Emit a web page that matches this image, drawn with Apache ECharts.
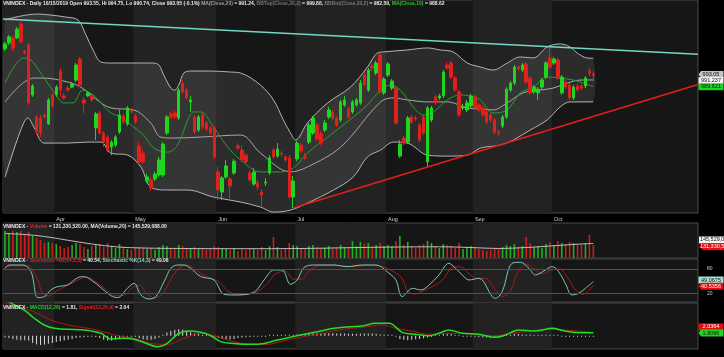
<!DOCTYPE html>
<html><head><meta charset="utf-8">
<script src="https://cdn.jsdelivr.net/npm/echarts@6/dist/echarts.min.js"></script>
<style>html,body{margin:0;padding:0;background:#000;}#c{width:724px;height:357px;}</style>
</head><body><div id="c"></div>
<script>
// ---------- DATA ----------
const monthNames = ['Apr','May','Jun','Jul','Aug','Sep','Oct'];
const monthStart = [13,33,54,74,97,119,139];
const SLOTS = 176;
const cats = Array.from({length: SLOTS}, (_, i) => String(i));

const openP = [1003.6,1006.0,1008.0,1008.0,1013.5,1002.8,1005.2,985.3,976.5,976.1,
977.3,973.7,985.3,985.3,994.8,984.9,988.0,988.4,991.2,999.6,
983.3,984.9,984.9,972.1,978.1,970.1,968.5,964.5,965.3,970.5,
976.9,973.7,979.3,976.9,964.9,962.1,951.0,951.4,951.8,953.4,
953.4,970.1,977.7,978.1,976.1,990.0,987.2,982.5,976.5,971.3,
977.3,974.1,972.1,972.1,954.6,946.6,952.6,951.8,954.2,964.9,
963.3,961.3,954.2,949.8,950.2,946.6,950.2,954.2,963.3,960.9,
962.1,960.6,960.2,944.6,959.8,965.3,960.6,966.5,970.1,973.3,
969.7,971.3,976.5,978.5,976.1,975.3,981.3,979.7,978.5,981.3,
982.1,993.2,987.2,996.8,994.0,1001.2,986.1,993.2,988.0,988.0,
960.9,968.1,966.5,976.5,976.1,973.3,976.5,958.6,975.3,984.5,
984.1,984.9,997.2,998.0,992.0,986.5,980.1,979.3,980.9,984.5,
981.3,980.1,978.5,977.3,975.3,970.5,972.9,976.5,987.2,990.0,
996.4,995.2,997.6,992.0,986.5,986.1,988.4,992.4,1000.0,998.0,
999.2,986.1,990.4,989.2,984.1,988.8,988.8,988.8,994.8,993.55];
const closeP = [1005.6,1008.4,1004.0,1011.5,1006.4,1002.0,982.1,988.8,970.5,970.1,
976.5,983.3,980.9,988.4,987.2,984.1,987.2,989.6,997.2,989.2,
982.1,986.1,983.3,977.7,970.1,966.5,963.3,966.5,968.5,977.3,
974.5,980.1,978.5,974.5,958.6,958.6,952.6,948.2,953.8,959.4,
965.7,976.5,976.5,976.5,987.2,986.5,984.1,983.3,970.5,976.5,
972.5,971.7,970.1,960.6,947.4,952.2,957.0,949.0,958.9,964.1,
959.4,958.6,951.4,954.6,948.6,945.4,950.6,960.2,960.6,963.7,
961.7,959.4,944.6,951.0,966.1,962.9,960.2,973.3,976.1,967.7,
966.1,974.1,979.3,976.1,973.3,982.5,983.3,976.5,982.5,983.3,
990.0,989.2,995.2,996.0,998.0,986.5,991.6,997.6,990.8,974.1,
965.7,966.1,976.1,974.5,975.7,967.3,970.1,980.1,980.1,982.1,
984.9,994.4,996.0,992.4,987.2,977.3,980.5,982.1,984.9,980.1,
979.3,977.3,974.5,975.3,970.5,970.1,976.5,987.6,990.0,996.4,
995.6,997.2,990.4,986.1,988.4,987.6,991.2,998.0,996.4,999.6,
992.0,992.4,988.4,984.1,988.4,987.2,988.0,992.0,994.0,993.05];
const lowP = [1002.8,1005.2,1002.8,1007.6,1006.0,1001.2,981.3,984.5,969.3,968.5,
976.1,973.3,980.1,984.5,984.5,983.3,986.5,988.0,990.4,988.4,
978.1,984.5,982.5,967.3,969.3,964.5,962.5,961.3,964.5,969.7,
973.7,972.9,977.7,973.7,957.8,957.8,950.2,947.0,951.0,952.6,
952.6,969.3,975.7,975.7,975.3,985.7,983.3,978.5,969.7,970.5,
971.7,970.9,969.3,959.8,943.4,943.4,951.8,944.2,953.4,963.3,
958.6,957.8,950.6,949.0,947.4,940.6,949.0,953.4,959.8,960.2,
960.6,958.6,943.8,940.2,959.0,962.1,959.4,965.7,969.3,966.9,
965.3,970.5,975.7,975.3,972.5,974.5,980.5,975.7,977.7,980.5,
981.3,988.4,986.5,994.8,993.2,985.7,985.3,992.4,987.2,973.3,
960.2,965.3,965.7,973.7,974.9,966.5,969.3,956.6,974.5,981.3,
983.3,984.1,995.2,991.6,986.5,976.5,979.3,978.5,980.1,979.3,
978.5,976.5,973.7,974.5,969.7,968.9,972.1,975.7,986.5,989.2,
994.8,994.4,989.6,985.3,985.7,983.3,987.6,991.6,995.6,997.2,
991.2,985.3,987.6,983.3,983.3,986.5,987.2,988.0,992.8,990.74];
const highP = [1006.4,1009.2,1008.8,1012.3,1014.7,1003.2,1006.0,989.6,977.3,977.3,
978.1,984.1,986.1,989.2,996.0,986.1,988.8,990.4,998.0,1000.4,
984.5,986.8,985.7,978.5,978.9,970.9,969.3,967.3,969.3,979.3,
977.7,980.9,980.1,977.7,966.5,963.3,953.8,952.2,954.6,960.6,
966.5,977.3,978.5,979.3,988.0,991.2,988.0,984.9,977.3,977.3,
978.1,974.9,972.9,972.9,956.6,953.0,959.4,952.6,959.8,966.1,
965.3,962.1,955.4,956.2,951.4,947.8,952.2,961.3,964.1,966.1,
962.9,961.3,961.3,953.0,966.9,966.1,962.1,974.1,976.9,974.1,
970.9,975.3,980.5,979.3,976.9,983.3,984.9,980.5,983.3,984.1,
991.2,994.4,996.0,997.6,998.8,1002.0,992.4,998.4,991.6,988.8,
967.3,968.9,976.9,977.3,976.9,974.1,977.3,980.9,980.9,985.3,
985.7,995.2,998.4,998.8,992.8,987.2,981.7,983.3,985.7,985.3,
982.1,980.9,979.3,978.1,976.1,971.3,977.3,988.4,990.8,997.2,
997.2,998.0,998.4,992.8,989.2,988.4,992.0,998.8,1004.0,1000.4,
1000.0,993.2,991.2,990.0,989.2,989.6,989.6,992.8,996.0,994.75];

// volume in millions of shares
const volume = [270,250,270,260,270,240,260,220,200,180,
150,160,150,140,120,100,110,130,150,140,
110,90,120,130,140,110,150,120,100,140,
110,90,80,100,110,100,90,100,80,110,
130,120,100,90,130,120,100,90,110,100,
90,80,90,120,110,100,90,80,100,70,
90,80,100,90,80,110,80,120,210,110,
80,90,150,130,120,100,90,120,130,110,
100,100,120,90,100,130,110,100,170,120,
160,140,150,110,130,150,120,130,120,170,
220,130,160,120,100,130,140,170,150,120,
100,140,130,120,100,150,90,110,120,100,
90,80,70,80,100,90,110,130,120,140,
110,120,210,150,110,120,100,140,160,130,
170,150,140,160,150,140,130,150,230,131.33];

// MACD histogram
const hist = [-1,-1.5,-2,-2.5,-2.8,-2.8,-3,-4.5,-5.5,-5.8,
-5.5,-5,-4.5,-4,-3.5,-3,-2.5,-2,-1.5,-1.2,
-1,-0.8,-0.6,-0.8,-1.5,-2.5,-3,-3,-2.5,-2,
-1,-0.5,-0.5,-0.6,-1.5,-2.2,-2.5,-2.5,-2,-1.2,
0.5,2,3,3.5,4,3.8,3,2.2,1.5,1,
0.6,0.4,0.2,-0.5,-1.5,-2,-2.2,-2.2,-2,-1.5,
-1.2,-1,-0.8,-0.6,-0.5,-0.4,-0.3,0.2,0.5,0.6,
0.5,0.4,0.2,0.3,0.8,1,1.2,1.4,1.6,1.6,
1.5,1.5,1.6,1.5,1.4,1.4,1.4,1.2,1.2,1.1,
1.2,1.3,1.4,1.3,1.2,0.8,0.8,0.8,0.6,-0.5,
-2,-2.6,-2.8,-2.6,-2.2,-2,-1.6,-1.2,-0.6,0.3,
0.6,1,1.2,1,0.6,0.2,-0.2,-0.3,-0.5,-0.6,
-0.8,-1,-1.2,-1.3,-1.2,-0.8,-0.4,0.2,0.6,1,
1,0.8,0.6,0.4,0.3,0.3,0.4,0.5,0.5,0.4,
0.2,-0.2,-0.4,-0.5,-0.5,-0.5,-0.4,-0.3,-0.3,-0.23];

// indicator curves: [day index, value]
const bbTop = [[0,1015.1],[4,1016.7],[8.3,1017.5],[11.6,1017.1],[15.4,1016.3],[18.5,1015.1],[20.5,1009.2],[22.3,1003.2],[24.3,998.4],[26.8,998.0],[31.9,998.0],[36.9,998.0],[38.7,997.6],[40.2,993.2],[42,988.0],[43,987.2],[44,989.2],[45.3,994.0],[47,994.8],[52.1,994.8],[57.1,994.4],[59.7,994.0],[64.7,989.2],[68,983.3],[70.5,975.3],[72.3,970.1],[73.6,967.3],[76.6,974.1],[81.7,982.1],[87.5,988.4],[91.8,996.4],[94.3,1002.0],[95.8,1002.4],[101.9,1003.2],[107,1004.0],[110.2,1003.2],[113.5,1002.4],[117.1,998.0],[120.4,996.4],[123.6,995.2],[127.2,998.0],[130.5,1000.4],[133.8,1000.0],[137.3,1004.4],[140.6,1005.6],[143.1,1004.4],[144.9,1002.0],[147.4,1000.0],[149,999.88]];
const bbBot = [[0,952.6],[4,971.3],[5.8,976.1],[7.3,972.5],[9.9,966.1],[12.4,966.1],[15.9,966.1],[21,966.5],[24.3,966.5],[26.8,962.1],[31.1,961.3],[34.4,956.6],[36.9,948.6],[41.2,947.4],[46.3,947.4],[52.8,944.6],[59.7,942.6],[64.7,940.6],[68,938.6],[72.3,939.4],[76.6,942.2],[83.2,947.4],[88.2,952.6],[91.8,960.6],[95.1,963.3],[98.4,966.5],[101.9,966.1],[107,961.3],[112,960.9],[117.1,961.3],[120.4,964.1],[125.4,965.3],[128.7,967.3],[133,971.3],[137.3,975.3],[140.6,980.5],[143.1,982.5],[145.6,982.5],[149,982.59]];
const ma20 = [[0,982.5],[7.3,992.0],[9.9,992.0],[15.9,990.4],[19.2,988.4],[26.8,980.1],[32.6,979.3],[36.9,974.1],[39.4,968.5],[42.7,968.1],[49.6,968.5],[59.7,969.3],[64.7,962.1],[72.3,954.6],[76.6,956.6],[85,964.5],[95.1,982.5],[98.4,984.1],[101.9,983.3],[107,982.5],[112,982.5],[117.1,980.1],[120.4,979.7],[123.6,979.3],[127.2,982.1],[131.2,986.1],[135.5,987.2],[138.8,988.0],[142.4,990.0],[145.6,991.2],[149,991.24]];
const ma10 = [[0,990.0],[4.8,1000.0],[6.6,999.2],[9.9,992.0],[12.4,986.5],[14.9,982.1],[17.2,982.1],[19.7,987.2],[22.3,985.3],[24.3,982.1],[26.8,978.1],[29.3,976.5],[32.6,972.5],[35.1,969.3],[37.7,964.1],[41.2,962.5],[43.7,965.3],[46.3,975.3],[47.8,978.5],[49.6,978.5],[52.8,972.5],[56.4,964.5],[59.7,959.4],[64.7,954.6],[69.8,954.6],[73.1,956.2],[76.6,962.1],[81.7,968.5],[85,972.5],[88.2,976.5],[91.8,981.3],[95.1,987.2],[97.6,989.2],[100.1,987.2],[103.4,980.5],[105.9,977.3],[108.5,978.5],[112,983.3],[115.3,985.3],[118.6,984.5],[120.4,983.3],[123.6,978.1],[127.2,979.3],[130.5,986.1],[133.8,988.4],[137.3,992.4],[140.6,992.0],[143.9,991.2],[145.6,990.4],[149,988.62]];
const volMA = [[0,245],[5,235],[10,215],[16,177],[22,140],[28.6,110],[35,100],[45,95],[60,93],[75,95],[90,105],[100,110],[110,112],[118,105],[125,95],[132,105],[140,125],[145,138],[149,145.53]];
const stochK = [[0,81.7],[1.1,89.9],[4.5,89.9],[6.6,73.4],[8.3,9.3],[10,11.7],[11.6,28.2],[13.3,36.4],[15.8,40.5],[18.4,58.6],[20,61.1],[21.8,52.9],[24.3,34],[26.8,14.2],[28.5,9.3],[31,32.3],[32.7,44.6],[34.4,15.8],[36.5,6],[38.2,11.7],[40.3,48.8],[42,81.7],[43.7,89.9],[45.3,89.9],[47,81.7],[49.6,61.1],[52.9,52.9],[55.5,17.5],[58,15.8],[63,22.4],[65.6,52.9],[68.1,77.6],[70.2,77.6],[72.3,42.2],[74,52.9],[75.7,83.3],[78.2,89.9],[83.3,89.9],[86.7,85.8],[90.5,89.9],[93.9,89.9],[97.3,69.3],[99,52.9],[100.6,11.7],[103.2,32.3],[105.3,28.2],[107.4,40.5],[109.9,65.2],[112.4,94],[114.1,81.7],[115.8,65.2],[117.5,52.9],[120,57],[123.4,11.7],[124.2,7.6],[125.9,24.1],[128.4,94],[130.5,96.5],[132.7,81.7],[134.3,65.2],[136.9,77.6],[138.5,85.8],[140.2,73.4],[141.9,44.6],[143.6,15.8],[145.3,20],[147,32.3],[149,49.06]];
const stochD = [[0,85],[2,88],[5.5,88],[8,60],[9.5,20],[11,13],[13,25],[15,36],[17,45],[19.5,58],[21,60],[23,48],[25.5,30],[28,14],[30,15],[32.5,35],[34,40],[36,18],[38,9],[40,20],[42,55],[44,82],[46,89],[48,80],[50.5,63],[54,50],[56.5,25],[59,17],[63,20],[66,40],[68.5,68],[71,75],[73,55],[75,55],[77,75],[79.5,88],[84,89],[88,86],[91,89],[94.5,88],[98,75],[100.5,58],[102,25],[104,18],[106,26],[108.5,38],[111,55],[113.5,85],[115.5,85],[117.5,68],[119.5,57],[121.5,57],[124.5,25],[126,12],[128,25],[130,75],[132,92],[134,80],[136,68],[138.5,78],[140.5,80],[142.5,58],[144.5,28],[146.5,18],[149,40.54]];
const macdLine = [[0,23],[2.5,19],[4.9,16],[7.4,10.9],[9.9,6.7],[12.5,4.6],[15.9,4.0],[20.1,3.6],[24.3,1.5],[26.8,-2],[30.2,-1.6],[32.7,-2.2],[35.2,-4.2],[38.6,-6.9],[41.1,-4.8],[43.7,0.9],[46.2,2.9],[49.6,2.1],[52.1,0],[54.6,-3.7],[58,-4.8],[62.2,-5.4],[65.6,-4.8],[69,-2.7],[72.3,-1],[74.8,0.4],[79.1,2.5],[83.3,4.6],[87.5,5.6],[90.5,6.0],[93.8,7.7],[97.3,7.7],[100.6,2.1],[103.9,0.9],[107.4,0],[109.9,1.5],[112.4,3.6],[115.8,1.5],[120,0.9],[124.1,-1],[126.7,0.4],[130.1,3.6],[134.3,2.9],[138.6,4.6],[141.8,2.9],[145.3,1.9],[149,1.81]];
const signalLine = [[0,21],[3,18],[7.3,15],[11.6,9.8],[15.9,6.7],[20.1,5.0],[24.3,2.9],[28.5,0],[32.6,-1.6],[36.9,-4.8],[41.1,-5.4],[45.3,-1.6],[49.6,1.5],[53.8,-0.6],[57.9,-3.7],[62.2,-5.4],[66.4,-5.4],[70.5,-3.3],[74.8,-1],[79.1,0.9],[83.2,2.9],[87.5,4.6],[90.5,5.2],[95.6,6.7],[98.9,4.6],[103.2,2.8],[107.4,0.9],[111.5,1.5],[115.8,1.5],[120,0.4],[124.1,0],[128.4,1.5],[132.7,2.9],[136.8,4.0],[141.1,3.6],[145.3,2.8],[149,2.04]];
const trendTop = [[-0.5,1015.5],[175.5,1001.5]];
const trendBottom = [[73,940.2],[175.5,989.4]];

// right-hand value tags
const priceTagText = ['993.05','991.237','989.621'];
const priceTagVal = [993.05, 991.237, 989.621];
const volTagText = ['145,529,088.00','131,330,520.00'];
const volTagVal = [145.53, 131.33];
const stoTagText = ['49.0675','40.5356'];
const stoTagVal = [49.06, 40.54];
const macdTagText = ['2.0364','1.8096'];
const macdTagVal = [2.04, 1.81];

// ---------- CHART ----------
const F = 'Liberation Sans, Arial, sans-serif';
const GREEN = '#1fd61f', RED = '#e0201c';
const VGREEN = '#20b020', VRED = '#c81e1e';
const L = 3, RGT = 26;
const chart = echarts.init(document.getElementById('c'));

const bounds = [-0.5].concat(monthStart.map(s => s - 0.5), [SLOTS - 0.5]);
const shadeAreas = [];
for (let k = 0; k < bounds.length - 1; k += 2) shadeAreas.push([{xAxis: bounds[k]}, {xAxis: bounds[k + 1]}]);

function shade(xi, yi) {
  return {type: 'line', xAxisIndex: xi, yAxisIndex: yi, data: [], symbol: 'none', silent: true, z: 0,
    markArea: {silent: true, itemStyle: {color: '#222222'}, data: shadeAreas}};
}
const ARROW = 'path://M0,5L5,0L50,0L50,10L5,10Z';
function tags(texts, vals, bgs, fgs, dys, w, dx, arrows) {
  return {silent: true, animation: false,
    label: {show: true, position: 'inside', fontSize: 5.5, fontFamily: F, formatter: '{b}'},
    data: texts.map((t, i) => ({name: t, coord: [SLOTS - 0.5, vals[i]], symbol: arrows[i] ? ARROW : 'rect',
      symbolSize: [w, 7], symbolOffset: [dx, dys[i]], itemStyle: {color: bgs[i]},
      label: {color: fgs[i]}}))};
}
function line(xi, yi, data, color, width, z, extra) {
  return Object.assign({type: 'line', xAxisIndex: xi, yAxisIndex: yi, data: data, symbol: 'none', smooth: 0.35,
    lineStyle: {color: color, width: width}, z: z, silent: true, clip: true}, extra || {});
}

const rich = {
  w: {color: '#e8e8e8', fontSize: 5, fontFamily: F},
  g: {color: '#a0a0a0', fontSize: 5, fontFamily: F},
  d: {color: '#7c7c7c', fontSize: 5, fontFamily: F},
  m: {color: '#22cc22', fontSize: 5, fontFamily: F},
  r: {color: '#e02020', fontSize: 5, fontFamily: F},
  t: {color: '#86d6c2', fontSize: 5, fontFamily: F}
};
function head(top, text) { return {left: 3, top: top, padding: 0, text: text, textStyle: {rich: rich, fontSize: 5}}; }

const grids = [
  {top: 0, height: 213}, {top: 223, height: 35}, {top: 259, height: 43}, {top: 303, height: 46}
].map(g => Object.assign({left: L, right: RGT, show: true, backgroundColor: '#161616', borderColor: '#4a4a4a', borderWidth: 1}, g));

const xAxes = [];
for (let g = 0; g < 4; g++) {
  xAxes.push({type: 'category', gridIndex: g, data: cats, boundaryGap: true,
    axisLine: {show: false}, axisTick: {show: false}, splitLine: {show: false},
    axisLabel: g === 0 ? {show: true, interval: (i) => monthStart.indexOf(i) >= 0,
      formatter: (v, i) => monthNames[monthStart.indexOf(i)] || '', color: '#d0d0d0', fontSize: 5.5,
      fontFamily: F, align: 'left', margin: 3, hideOverlap: false} : {show: false}});
  xAxes.push({type: 'value', gridIndex: g, min: -0.5, max: SLOTS - 0.5, show: false});
}
const yAxes = [
  {gridIndex: 0, type: 'value', min: 938.24, max: 1023.1, show: false},
  {gridIndex: 1, type: 'value', min: 0, max: 350, show: false},
  {gridIndex: 2, type: 'value', min: -1.5, max: 104.7, show: false},
  {gridIndex: 3, type: 'value', min: -8.3, max: 20.4, show: false}
];

const candleData = openP.map((o, i) => [o, closeP[i], lowP[i], highP[i]]);
const volData = volume.map((v, i) => ({value: v, itemStyle: {color: closeP[i] >= openP[i] ? VGREEN : VRED}}));

const series = [
  shade(1, 0), shade(3, 1), shade(5, 2), shade(7, 3),
  {type: 'custom', xAxisIndex: 1, yAxisIndex: 0, data: [[0, 980]], z: 1, silent: true, clip: true,
    renderItem: (params, api) => {
      const pts = bbTop.map(p => api.coord(p)).concat(bbBot.slice().reverse().map(p => api.coord(p)));
      return {type: 'polygon', shape: {points: pts, smooth: 0.35}, style: {fill: 'rgba(150,150,150,0.17)'}};
    }},
  line(1, 0, bbTop, '#b4b4b4', 1, 2),
  line(1, 0, bbBot, '#b4b4b4', 1, 2),
  line(1, 0, ma20, '#a8a8a8', 1, 2, {markPoint: tags(priceTagText, priceTagVal, ['#c4c4c4', '#f4f4f4', '#1fd61f'], ['#111', '#111', '#111'], [-1, 0.7, 2.7], 25, 13, [true, false, false])}),
  line(1, 0, ma10, '#2e9e2e', 1, 2),
  {type: 'candlestick', xAxisIndex: 0, yAxisIndex: 0, data: candleData, barWidth: 3, z: 3, silent: true,
    itemStyle: {color: GREEN, color0: RED, borderColor: GREEN, borderColor0: RED, borderWidth: 1}},
  line(1, 0, trendTop, '#6fd8c6', 1.5, 4, {smooth: false}),
  line(1, 0, trendBottom, '#e41e1e', 1.5, 4, {smooth: false}),
  // volume
  {type: 'bar', xAxisIndex: 2, yAxisIndex: 1, data: volData, barWidth: 1.6, z: 2, silent: true},
  line(3, 1, volMA, '#bdbdbd', 1, 3, {markPoint: tags(volTagText, volTagVal, ['#f4f4f4', '#e01010'], ['#111', '#fff'], [-3.5, 1.8], 40, 21, [false, true])}),
  // stochastic
  line(5, 2, stochD, '#a41c1c', 1, 2, {markPoint: tags(stoTagText, stoTagVal, ['#a8e2d4', '#e01010'], ['#111', '#fff'], [-1.5, 1.2], 25, 13, [false, true])}),
  line(5, 2, stochK, '#7ec8b4', 1, 3, {markLine: {silent: true, symbol: 'none', animation: false,
    lineStyle: {color: '#505050', width: 1, type: 'solid'},
    label: {show: true, position: 'end', color: '#c8c8c8', fontSize: 5, fontFamily: F, distance: 9, formatter: (p) => String(p.value)},
    data: [{yAxis: 80}, {yAxis: 20}]}}),
  // MACD
  {type: 'bar', xAxisIndex: 6, yAxisIndex: 3, data: hist, barWidth: 1, barMinHeight: 1, z: 2, silent: true, itemStyle: {color: '#d8d8d8'}},
  line(7, 3, signalLine, '#b01818', 1, 3, {markPoint: tags(macdTagText, macdTagVal, ['#e01010', '#1fd61f'], ['#fff', '#111'], [-5.5, 0.2], 25, 13, [false, true])}),
  line(7, 3, macdLine, '#22dd22', 1.5, 4)
];

chart.setOption({
  animation: false,
  backgroundColor: '#000000',
  title: [
    head(1, '{w|VNINDEX - Daily 10/15/2019 Open 993.55, Hi 994.75, Lo 990.74, Close 993.05 (-0.1%) }{g|MA(Close,20)}{w| = 991.24, }{d|BBTop(Close,20,2)}{w| = 999.88, }{d|BBBot(Close,20,2)}{w| = 982.59, }{m|MA(Close,10)}{w| = 988.62}'),
    head(224, '{w|VNINDEX - }{r|Volume}{w| = 131,330,520.00, MA(Volume,20) = 145,529,088.00}'),
    head(258, '{w|VNINDEX - }{r|Stochastic %D(14,3,3)}{w| = 40.54, }{t|Stochastic %K(14,3)}{w| = 49.06}'),
    head(305, '{w|VNINDEX - }{m|MACD(12,26)}{w| = 1.81, }{r|Signal(12,26,9)}{w| = 2.04}')
  ],
  grid: grids,
  xAxis: xAxes,
  yAxis: yAxes,
  series: series
});
</script></body></html>
